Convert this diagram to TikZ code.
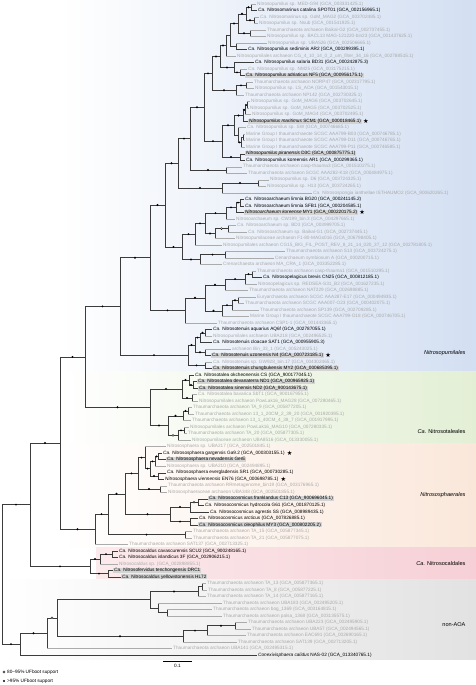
\documentclass[tikz,border=0pt]{standalone}
\usepackage{fontspec}
\setmainfont{Liberation Sans}
\newfontfamily\symfont{DejaVu Sans}
\usetikzlibrary{calc}
\definecolor{lg}{HTML}{ABABAB}
\definecolor{br}{HTML}{3C3C3C}
\definecolor{hl}{HTML}{D4D4D4}
\definecolor{cblue}{HTML}{D3DFF2}
\definecolor{cgreen}{HTML}{E3EFD5}
\definecolor{corange}{HTML}{FAE7DA}
\definecolor{cpink}{HTML}{F6D0D6}
\definecolor{cgray}{HTML}{E2E2E2}
\newcommand\Ca{\textit{Ca.}}
\tikzset{
  lab/.style={anchor=west, inner xsep=1pt, inner ysep=0.4pt, font=\fontsize{4.7}{5}\selectfont},
  glab/.style={lab, text=lg},
  blab/.style={lab, text=black},
  hlab/.style={lab, text=black, fill=hl},
  brn/.style={draw=br, line width=0.45pt},
  gbrn/.style={draw=lg, line width=0.45pt},
  sfull/.style={circle, fill=black, inner sep=0pt, minimum size=2.1pt},
  sopen/.style={circle, draw=black, fill=white, inner sep=0pt, minimum size=2.1pt, line width=0.3pt},
  starst/.style={anchor=west, inner sep=0.8pt, font=\symfont\fontsize{6.2}{6}\selectfont},
  cladel/.style={anchor=east, font=\fontsize{5.6}{6}\selectfont},
}
\newcommand\lf[4]{\coordinate (L#1) at ({#2-1},{4+(#1-1)*6.51});
  \node[#3] (T#1) at (L#1) {#4};}
\newcommand\nd[4]{\path let \p1=(#3), \p2=(#4) in coordinate (#1) at (#2pt,{0.5*\y1+0.5*\y2});
  \draw[brn] (#1 |- #3) -- (#1 |- #4);}
\newcommand\e[2]{\draw[brn] (#1 |- #2) -- (#2);}
\newcommand\eg[2]{\draw[gbrn] (#1 |- #2) -- (#2);}
\newcommand\ef[2]{\draw[brn] (#1 |- #2) -- node[sfull]{} (#2);}
\newcommand\eo[2]{\draw[brn] (#1 |- #2) -- node[sopen]{} (#2);}
\begin{document}
\begin{tikzpicture}[x=1pt,y=-1pt]
\useasboundingbox (0,0) rectangle (476,685);
% clade backgrounds
\path[left color=white, right color=cblue] (60,0) rectangle (476,371);
\path[left color=white, right color=cgreen] (60,371) rectangle (476,443);
\path[left color=white, right color=corange] (60,443) rectangle (476,547);
\path[left color=cpink!45, right color=cpink] (96,547) rectangle (476,579.5);
\path[left color=white, right color=cgray] (0,579.5) rectangle (476,659);
\node[cladel] (cl1) at (469,353) {\textit{Nitrosopumilales}};
\node[cladel] (cl2) at (469,431) {\Ca{} Nitrosotaleales};
\node[cladel] (cl3) at (469,495) {\textit{Nitrososphaerales}};
\node[cladel] (cl4) at (469,563) {\Ca{} Nitrosocaldales};
\node[cladel] (cl5) at (469,625) {non-AOA};
% leaves
\lf{1}{257}{glab}{Nitrosopumilus sp. MED-G94 (GCA\_003331425.1)}
\lf{2}{258}{blab}{\Ca{} Nitrosomarinus catalina SPOT01 (GCA\_002156965.1)}
\lf{3}{260}{glab}{\Ca{} Nitrosomarinus sp. GoM\_MAG2 (GCA\_003702485.1)}
\lf{4}{259}{glab}{Nitrosopumilus sp. Nsub (GCA\_001541925.1)}
\lf{5}{267}{glab}{Thaumarchaeota archaeon Baikal-G2 (GCA\_002737455.1)}
\lf{6}{267}{glab}{Nitrosopumilus sp. BACL13 MAG-121220-bin23 (GCA\_001437625.1)}
\lf{7}{268}{glab}{Nitrosopumilus sp. UBA526 (GCA\_002506665.1)}
\lf{8}{248}{blab}{\Ca{} Nitrosopumilus sediminis AR2 (GCA\_000299395.1)}
\lf{9}{237}{glab}{Nitrosopumilales archaeon CG\_4\_10\_14\_0\_2\_um\_filter\_34\_16 (GCA\_002788515.1)}
\lf{10}{255}{blab}{\Ca{} Nitrosopumilus salaria BD31 (GCA\_000242875.3)}
\lf{11}{248}{glab}{\Ca{} Nitrosopumilus sp. NM25 (GCA\_003175215.1)}
\lf{12}{246}{hlab}{\Ca{} Nitrosopumilus adriaticus NF5 (GCA\_000956175.1)}
\lf{13}{254}{glab}{Thaumarchaeota archaeon NORP47 (GCA\_002317795.1)}
\lf{14}{255}{glab}{Nitrosopumilus sp. LS\_AOA (GCA\_001543015.1)}
\lf{15}{245}{glab}{Thaumarchaeota archaeon NP142 (GCA\_002730325.1)}
\lf{16}{251}{glab}{Nitrosopumilus sp. GoM\_MAG6 (GCA\_003702645.1)}
\lf{17}{250}{glab}{Nitrosopumilus sp. GoM\_MAG5 (GCA\_003702525.1)}
\lf{18}{252}{glab}{Nitrosopumilus sp. GoM\_MAG4 (GCA\_003702495.1)}
\lf{19}{249}{hlab}{\textit{Nitrosopumilus maritimus} SCM1 (GCA\_000018465.1)}
\lf{20}{247}{glab}{\Ca{} Nitrosopumilus sp. SW (GCA\_000746685.1)}
\lf{21}{246}{glab}{Marine Group I thaumarchaeote SCGC AAA799-B03 (GCA\_000746785.1)}
\lf{22}{246}{glab}{Marine Group I thaumarchaeote SCGC AAA799-D11 (GCA\_000746765.1)}
\lf{23}{246}{glab}{Marine Group I thaumarchaeote SCGC AAA799-P11 (GCA\_000746585.1)}
\lf{24}{246}{hlab}{\textit{Nitrosopumilus piranensis} D3C (GCA\_000875775.1)}
\lf{25}{246}{blab}{\Ca{} Nitrosopumilus koreensis AR1 (GCA\_000299365.1)}
\lf{26}{243}{glab}{Thaumarchaeota archaeon casp-thauma3 (GCA\_001510275.1)}
\lf{27}{248}{glab}{Thaumarchaeota archaeon SCGC AAA282-K18 (GCA\_000484975.1)}
\lf{28}{270}{glab}{Nitrosopumilus sp. D6 (GCA\_003724325.1)}
\lf{29}{267}{glab}{Nitrosopumilus sp. H13 (GCA\_003724265.1)}
\lf{30}{313}{glab}{\Ca{} Nitrosospongia ianthellae ISTHAUMO2 (GCA\_900620265.1)}
\lf{31}{245}{blab}{\Ca{} Nitrosoarchaeum limnia BG20 (GCA\_000241145.2)}
\lf{32}{245}{blab}{\Ca{} Nitrosoarchaeum limnia SFB1 (GCA\_000204585.1)}
\lf{33}{245}{hlab}{\textit{Nitrosoarchaeum koreense} MY1 (GCA\_000220175.2)}
\lf{34}{236}{glab}{Nitrosoarchaeum sp. CW199\_bin.3 (GCA\_004297665.1)}
\lf{35}{237}{glab}{\Ca{} Nitrosoarchaeum sp. BD3 (GCA\_003999705.1)}
\lf{36}{248}{glab}{\Ca{} Nitrosoarchaeum sp. Baikal-G1 (GCA\_002737445.1)}
\lf{37}{236}{glab}{Nitrosopumilaceae archaeon F1-80-MAGs016 (GCA\_006798405.1)}
\lf{38}{223}{glab}{Nitrosopumilales archaeon CG15\_BIG\_FIL\_POST\_REV\_8\_21\_14\_020\_37\_12 (GCA\_002781805.1)}
\lf{39}{286}{glab}{Thaumarchaeota archaeon S13 (GCA\_003724275.1)}
\lf{40}{275}{glab}{Cenarchaeum symbiosum A (GCA\_000200715.1)}
\lf{41}{223}{glab}{Crenarchaeota archaeon MA\_CRA\_1 (GCA\_003352285.1)}
\lf{42}{257}{glab}{Thaumarchaeota archaeon casp-thauma1 (GCA\_001510295.1)}
\lf{43}{263}{blab}{\Ca{} Nitrosopelagicus brevis CN25 (GCA\_000812185.1)}
\lf{44}{258}{glab}{Nitrosopelagicus sp. REDSEA-S31\_B2 (GCA\_001627235.1)}
\lf{45}{249}{glab}{Thaumarchaeota archaeon NAT229 (GCA\_002698885.1)}
\lf{46}{257}{glab}{Euryarchaeota archaeon SCGC AAA287-E17 (GCA\_000494935.1)}
\lf{47}{245}{glab}{Thaumarchaeota archaeon SCGC AAA007-O23 (GCA\_000402075.1)}
\lf{48}{260}{glab}{Thaumarchaeota archaeon SP139 (GCA\_002709285.1)}
\lf{49}{250}{glab}{Marine Group I thaumarchaeote SCGC AAA799-O18 (GCA\_000746705.1)}
\lf{50}{218}{glab}{Thaumarchaeota archaeon CSP1-1 (GCA\_001443365.1)}
\lf{51}{213}{blab}{\Ca{} Nitrosotenuis aquarius AQ6f (GCA\_002787055.1)}
\lf{52}{213}{glab}{Nitrosopumilales archaeon UBA218 (GCA\_002496525.1)}
\lf{53}{213}{blab}{\Ca{} Nitrosotenuis cloacae SAT1 (GCA\_000955905.3)}
\lf{54}{232}{glab}{archaeon Bin\_33\_1 (GCA\_005243025.1)}
\lf{55}{212}{hlab}{\Ca{} Nitrosotenuis uzonensis N4 (GCA\_000723185.1)}
\lf{56}{213}{glab}{\Ca{} Nitrosotenuis sp. GW928\_bin.17 (GCA\_004302465.1)}
\lf{57}{213}{hlab}{\Ca{} Nitrosotenuis chungbukensis MY2 (GCA\_000685395.1)}
\lf{58}{195}{blab}{\Ca{} Nitrosotalea okcheonensis CS (GCA\_900177045.1)}
\lf{59}{198}{hlab}{\Ca{} Nitrosotalea devanaterra ND1 (GCA\_000965925.1)}
\lf{60}{199}{hlab}{\Ca{} Nitrosotalea sinensis ND2 (GCA\_900143675.1)}
\lf{61}{198}{glab}{\Ca{} Nitrosotalea bavarica SbT1 (GCA\_900167955.1)}
\lf{62}{199}{glab}{Nitrosopumilales archaeon PowLak16\_MAG28 (GCA\_007280465.1)}
\lf{63}{193}{glab}{Thaumarchaeota archaeon TA\_9 (GCA\_005877205.1)}
\lf{64}{195}{glab}{Thaumarchaeota archaeon 13\_1\_20CM\_2\_39\_20 (GCA\_001920395.1)}
\lf{65}{192}{glab}{Thaumarchaeota archaeon 13\_1\_40CM\_4\_38\_7 (GCA\_001917995.1)}
\lf{66}{190}{glab}{Nitrosopumilales archaeon PowLak16\_MAG10 (GCA\_007280335.1)}
\lf{67}{188}{glab}{Thaumarchaeota archaeon TA\_20 (GCA\_005877305.1)}
\lf{68}{192}{glab}{Nitrosopumilaceae archaeon UBA8516 (GCA\_013330055.1)}
\lf{69}{167}{glab}{Nitrososphaera sp. UBA217 (GCA\_002501845.1)}
\lf{70}{163}{blab}{\Ca{} Nitrososphaera gargensis Ga9.2 (GCA\_000303155.1)}
\lf{71}{167}{hlab}{\Ca{} Nitrososphaera nevadensis GerE}
\lf{72}{167}{glab}{Nitrososphaera sp. UBA210 (GCA\_002494895.1)}
\lf{73}{167}{blab}{\Ca{} Nitrososphaera evergladensis SR1 (GCA\_000730285.1)}
\lf{74}{165}{blab}{\textit{Nitrososphaera viennensis} EN76 (GCA\_000698785.1)}
\lf{75}{168}{glab}{Thaumarchaeota archaeon RRmetagenome\_bin19 (GCA\_003176965.1)}
\lf{76}{168}{glab}{Nitrososphaeraceae archaeon UBA348 (GCA\_002501855.1)}
\lf{77}{209}{hlab}{\Ca{} Nitrosocosmicus franklandus C13 (GCA\_900696045.1)}
\lf{78}{205}{blab}{\Ca{} Nitrosocosmicus hydrocola G61 (GCA\_001870125.1)}
\lf{79}{210}{blab}{\Ca{} Nitrosocosmicus agrestis SS (GCA\_008989435.1)}
\lf{80}{199}{blab}{\Ca{} Nitrosocosmicus arcticus (GCA\_007826885.1)}
\lf{81}{199}{hlab}{\Ca{} Nitrosocosmicus oleophilus MY3 (GCA\_000802205.2)}
\lf{82}{193}{glab}{Thaumarchaeota archaeon TA\_15 (GCA\_005877345.1)}
\lf{83}{193}{glab}{Thaumarchaeota archaeon TA\_21 (GCA\_005877075.1)}
\lf{84}{129}{glab}{Thaumarchaeota archaeon SAT137 (GCA\_002713325.1)}
\lf{85}{119}{blab}{\Ca{} Nitrosocaldus cavascurensis SCU2 (GCA\_900248165.1)}
\lf{86}{119}{blab}{\Ca{} Nitrosocaldus islandicus 3F (GCA\_002906215.1)}
\lf{87}{119}{glab}{Nitrosocaldus sp. (GCA\_002898855.1)}
\lf{88}{114}{hlab}{\Ca{} Nitrosofervidus tenchongensis DRC1}
\lf{89}{122}{hlab}{\Ca{} Nitrosocaldus yellowstonensis HL72}
\lf{90}{207}{glab}{Thaumarchaeota archaeon TA\_13 (GCA\_005877365.1)}
\lf{91}{208}{glab}{Thaumarchaeota archaeon TA\_8 (GCA\_005877225.1)}
\lf{92}{207}{glab}{Thaumarchaeota archaeon TA\_14 (GCA\_005877165.1)}
\lf{93}{223}{glab}{Thaumarchaeota archaeon UBA183 (GCA\_002495205.1)}
\lf{94}{213}{glab}{Thaumarchaeota archaeon bog\_1369 (GCA\_003164815.1)}
\lf{95}{223}{glab}{Thaumarchaeota archaeon palsa\_1368 (GCA\_003135575.1)}
\lf{96}{248}{glab}{Thaumarchaeota archaeon UBA223 (GCA\_002495905.1)}
\lf{97}{252}{glab}{Thaumarchaeota archaeon UBA57 (GCA\_002494565.1)}
\lf{98}{247}{glab}{Thaumarchaeota archaeon EAC691 (GCA\_002690165.1)}
\lf{99}{238}{glab}{Thaumarchaeota archaeon SAT139 (GCA\_002713205.1)}
\lf{100}{173}{glab}{Thaumarchaeota archaeon UBA141 (GCA\_002495315.1)}
\lf{101}{258}{blab}{\textit{Conexivisphaera calidus} NAS-02 (GCA\_013340765.1)}
% stars
\node[starst] (st19) at (T19.east) {★};
\node[starst] (st33) at (T33.east) {★};
\node[starst] (st55) at (T55.east) {★};
\node[starst] (st70) at (T70.east) {★};
\node[starst] (st74) at (T74.east) {★};
% ---- tree: Nitrosopumilales
\nd{a1}{251}{L1}{L2} \eg{a1}{L1} \e{a1}{L2}
\nd{a2}{254}{L3}{L4} \eg{a2}{L3} \eg{a2}{L4}
\nd{a3}{246}{a1}{a2} \ef{a3}{a1} \ef{a3}{a2}
\nd{a4}{250}{L5}{L6} \eg{a4}{L5} \eg{a4}{L6}
\nd{a5}{238}{a3}{a4} \ef{a5}{a3} \ef{a5}{a4}
\nd{a6}{236}{L7}{L8} \eg{a6}{L7} \e{a6}{L8}
\nd{a7}{230}{a5}{a6} \ef{a7}{a5} \e{a7}{a6}
\nd{a8}{226}{a7}{L9} \e{a8}{a7} \eg{a8}{L9}
\nd{a9}{240}{L11}{L12} \eg{a9}{L11} \e{a9}{L12}
\nd{a10}{234}{L10}{a9} \e{a10}{L10} \ef{a10}{a9}
\nd{a11}{220}{a8}{a10} \ef{a11}{a8} \ef{a11}{a10}
\nd{a12}{246}{L13}{L14} \eg{a12}{L13} \eg{a12}{L14}
\nd{a13}{236}{a12}{L15} \ef{a13}{a12} \eg{a13}{L15}
\nd{a14}{212}{a11}{a13} \ef{a14}{a11} \ef{a14}{a13}
\nd{a15}{247}{L16}{L17} \eg{a15}{L16} \eg{a15}{L17}
\nd{a16}{245}{a15}{L18} \ef{a16}{a15} \eg{a16}{L18}
\nd{a17}{243}{a16}{L19} \ef{a17}{a16} \e{a17}{L19}
\nd{a18}{243}{L21}{L22} \eg{a18}{L21} \eg{a18}{L22}
\nd{a19}{241}{a18}{L23} \e{a19}{a18} \eg{a19}{L23}
\nd{a20}{238}{L20}{a19} \eg{a20}{L20} \ef{a20}{a19}
\nd{a21}{234}{a17}{a20} \ef{a21}{a17} \e{a21}{a20}
\nd{a22}{240}{L24}{L25} \e{a22}{L24} \e{a22}{L25}
\nd{a23}{222}{a21}{a22} \ef{a23}{a21} \ef{a23}{a22}
\nd{a24}{204}{a14}{a23} \ef{a24}{a14} \ef{a24}{a23}
\nd{a25}{226}{L26}{L27} \eg{a25}{L26} \eg{a25}{L27}
\nd{a26}{190}{a24}{a25} \ef{a26}{a24} \ef{a26}{a25}
\nd{a27}{258}{L28}{L29} \eg{a27}{L28} \eg{a27}{L29}
\nd{a28}{222}{a27}{L30} \ef{a28}{a27} \eg{a28}{L30}
\nd{a29}{178}{a26}{a28} \ef{a29}{a26} \ef{a29}{a28}
\nd{b1}{240}{L31}{L32} \e{b1}{L31} \e{b1}{L32}
\nd{b2}{236}{b1}{L33} \ef{b2}{b1} \e{b2}{L33}
\nd{b3}{226}{b2}{L34} \ef{b3}{b2} \eg{b3}{L34}
\nd{b4}{228}{L35}{L36} \eg{b4}{L35} \eg{b4}{L36}
\nd{b5}{215}{b4}{L37} \eo{b5}{b4} \eg{b5}{L37}
\nd{b6}{205}{b3}{b5} \ef{b6}{b3} \ef{b6}{b5}
\nd{b7}{195}{b6}{L38} \ef{b7}{b6} \eg{b7}{L38}
\nd{b8}{225}{L39}{L40} \eg{b8}{L39} \eg{b8}{L40}
\nd{b9}{200}{b8}{L41} \ef{b9}{b8} \eg{b9}{L41}
\nd{b10}{182}{b7}{b9} \ef{b10}{b7} \ef{b10}{b9}
\nd{b11}{165}{a29}{b10} \ef{b11}{a29} \ef{b11}{b10}
\nd{c1}{252}{L42}{L43} \eg{c1}{L42} \e{c1}{L43}
\nd{c2}{245}{c1}{L44} \ef{c2}{c1} \eg{c2}{L44}
\nd{c3}{225}{c2}{L45} \ef{c3}{c2} \eg{c3}{L45}
\nd{c4}{238}{L46}{L47} \eg{c4}{L46} \eg{c4}{L47}
\nd{c5}{232}{c4}{L48} \ef{c5}{c4} \eg{c5}{L48}
\nd{c6}{222}{c5}{L49} \ef{c6}{c5} \eg{c6}{L49}
\nd{c7}{205}{c3}{c6} \ef{c7}{c3} \ef{c7}{c6}
\nd{c8}{185}{c7}{L50} \ef{c8}{c7} \eg{c8}{L50}
\nd{c9}{150}{b11}{c8} \ef{c9}{b11} \ef{c9}{c8}
\nd{d1}{205}{L51}{L52} \e{d1}{L51} \eg{d1}{L52}
\nd{d2}{200}{d1}{L53} \ef{d2}{d1} \e{d2}{L53}
\nd{d3}{205}{L54}{L55} \eg{d3}{L54} \e{d3}{L55}
\nd{d4}{195}{d2}{d3} \ef{d4}{d2} \ef{d4}{d3}
\nd{d5}{205}{L56}{L57} \eg{d5}{L56} \e{d5}{L57}
\nd{d6}{188}{d4}{d5} \ef{d6}{d4} \ef{d6}{d5}
\nd{d7}{120}{c9}{d6} \ef{d7}{c9} \ef{d7}{d6}
% ---- Nitrosotaleales
\nd{t1}{193}{L59}{L60} \e{t1}{L59} \e{t1}{L60}
\nd{t2}{189}{L58}{t1} \e{t2}{L58} \ef{t2}{t1}
\nd{t3}{192}{L61}{L62} \eg{t3}{L61} \eg{t3}{L62}
\nd{t4}{182}{t2}{t3} \ef{t4}{t2} \ef{t4}{t3}
\nd{t5}{188}{L63}{L64} \eg{t5}{L63} \eg{t5}{L64}
\nd{t6}{183}{t5}{L65} \ef{t6}{t5} \eg{t6}{L65}
\nd{t7}{184}{L66}{L67} \eg{t7}{L66} \eg{t7}{L67}
\nd{t8}{178}{t7}{L68} \ef{t8}{t7} \eg{t8}{L68}
\nd{t9}{168}{t6}{t8} \ef{t9}{t6} \eo{t9}{t8}
\nd{t10}{150}{t4}{t9} \ef{t10}{t4} \ef{t10}{t9}
\nd{e1}{85}{d7}{t10} \ef{e1}{d7} \ef{e1}{t10}
% ---- Nitrososphaerales
\nd{s1}{158}{L70}{L71} \e{s1}{L70} \e{s1}{L71}
\nd{s2}{155}{s1}{L72} \ef{s2}{s1} \eg{s2}{L72}
\nd{s3}{158}{L73}{L74} \e{s3}{L73} \e{s3}{L74}
\nd{s4}{150}{s2}{s3} \ef{s4}{s2} \ef{s4}{s3}
\nd{s5}{145}{L69}{s4} \eg{s5}{L69} \ef{s5}{s4}
\nd{s6}{160}{L75}{L76} \eg{s6}{L75} \eg{s6}{L76}
\nd{s7}{138}{s5}{s6} \ef{s7}{s5} \ef{s7}{s6}
\nd{s8}{198}{L77}{L78} \e{s8}{L77} \e{s8}{L78}
\nd{s9}{190}{s8}{L79} \eo{s9}{s8} \e{s9}{L79}
\nd{s10}{190}{L80}{L81} \e{s10}{L80} \e{s10}{L81}
\nd{s11}{170}{s9}{s10} \ef{s11}{s9} \ef{s11}{s10}
\nd{s12}{125}{s7}{s11} \ef{s12}{s7} \ef{s12}{s11}
\nd{s13}{185}{L82}{L83} \eg{s13}{L82} \eg{s13}{L83}
\nd{s14}{108}{s12}{s13} \ef{s14}{s12} \ef{s14}{s13}
\nd{s15}{95}{s14}{L84} \ef{s15}{s14} \eg{s15}{L84}
\nd{e2}{60}{e1}{s15} \ef{e2}{e1} \ef{e2}{s15}
% ---- Nitrosocaldales
\nd{k1}{112}{L85}{L86} \e{k1}{L85} \e{k1}{L86}
\nd{k2}{100}{k1}{L87} \ef{k2}{k1} \eg{k2}{L87}
\nd{k3}{108}{L88}{L89} \e{k3}{L88} \e{k3}{L89}
\nd{k4}{90}{k2}{k3} \ef{k4}{k2} \ef{k4}{k3}
\nd{e3}{30}{e2}{k4} \ef{e3}{e2} \ef{e3}{k4}
% ---- non-AOA
\nd{n1}{202}{L90}{L91} \eg{n1}{L90} \eg{n1}{L91}
\nd{n2}{198}{n1}{L92} \e{n2}{n1} \eg{n2}{L92}
\nd{n3}{167}{L94}{L95} \eg{n3}{L94} \eg{n3}{L95}
\nd{n4}{158}{L93}{n3} \eg{n4}{L93} \e{n4}{n3}
\nd{n5}{150}{n2}{n4} \ef{n5}{n2} \e{n5}{n4}
\nd{n6}{235}{L96}{L97} \eg{n6}{L96} \eg{n6}{L97}
\nd{n7}{207}{n6}{L98} \ef{n7}{n6} \eg{n7}{L98}
\nd{n8}{183}{n7}{L99} \ef{n8}{n7} \eg{n8}{L99}
\nd{n9}{57}{n5}{n8} \e{n9}{n5} \ef{n9}{n8}
\nd{n10}{47}{n9}{L100} \eo{n10}{n9} \eg{n10}{L100}
\nd{n11}{20}{n10}{L101} \ef{n11}{n10} \e{n11}{L101}
\nd{root}{2}{e3}{n11} \ef{root}{e3} \ef{root}{n11}
% scale bar and legend
\coordinate (sb1) at (163,661.7);
\coordinate (sb2) at (192,661.7);
\draw[line width=0.6pt] (sb1) -- (sb2);
\node[lab, anchor=north] (sbl) at ($(sb1)!.5!(sb2)+(0,2)$) {0.1};
\node[sopen] (lg1) at (4,672) {};
\node[lab] (lgt1) at (6,672) {80–95\% UFboot support};
\node[sfull] (lg2) at (4,681) {};
\node[lab] (lgt2) at (6,681) {>95\% UFboot support};
\end{tikzpicture}
\end{document}
